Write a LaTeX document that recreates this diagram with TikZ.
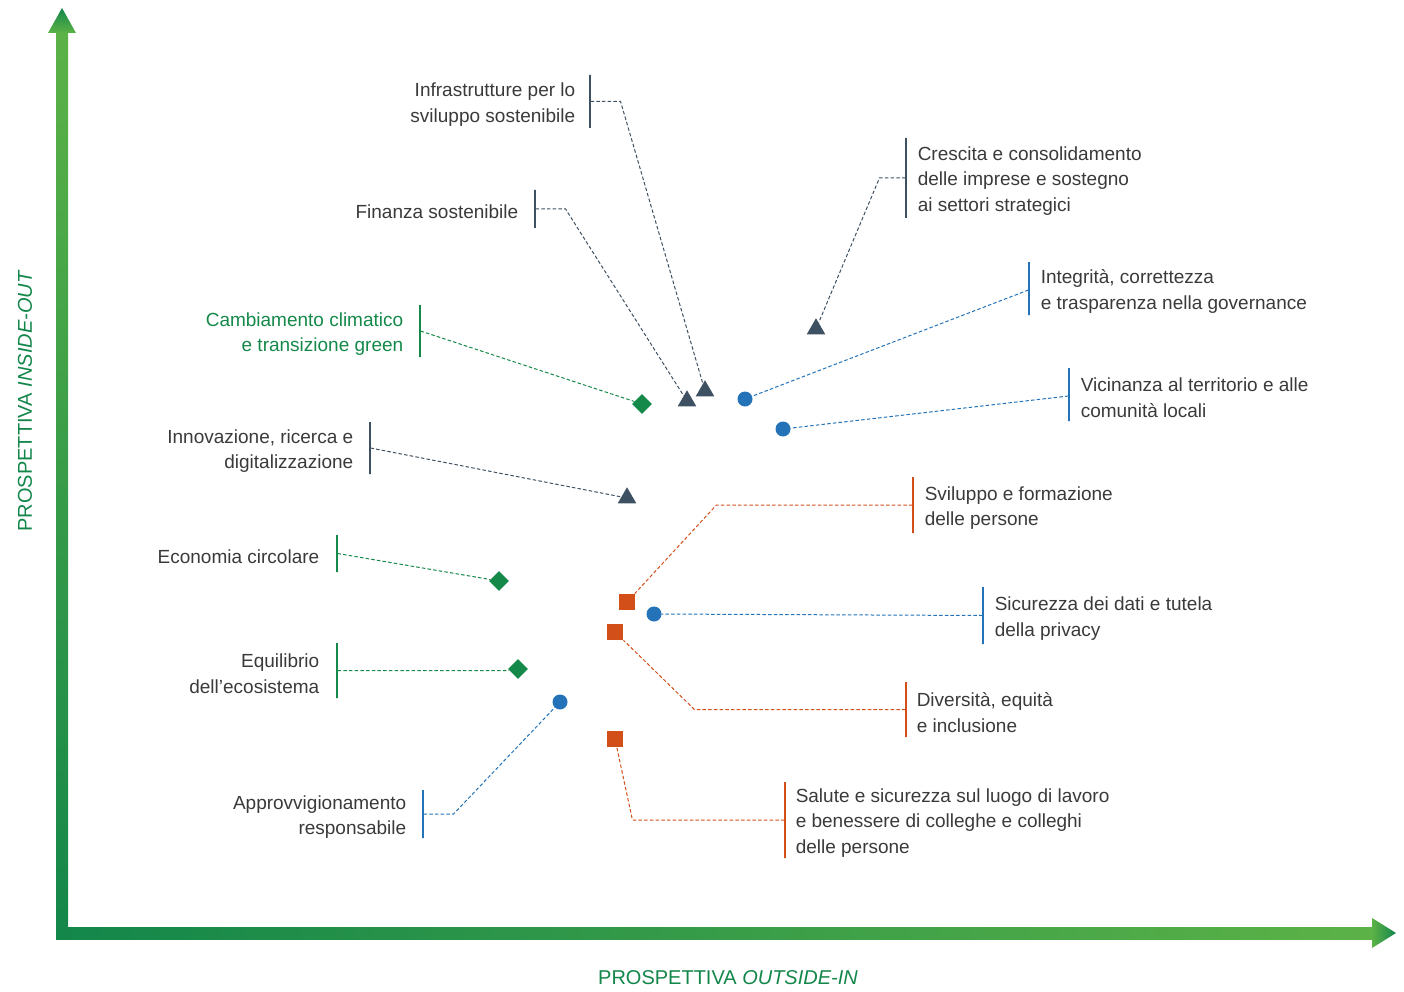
\documentclass[tikz,border=0pt]{standalone}
\usepackage{fontspec}
\setmainfont{Liberation Sans}
\usetikzlibrary{shapes.geometric,positioning}
\definecolor{txtgray}{HTML}{3A3A3A}
\definecolor{slate}{HTML}{3E5163}
\definecolor{dotblue}{HTML}{2473B8}
\definecolor{leafgreen}{HTML}{14894A}
\definecolor{rust}{HTML}{D24F19}
\definecolor{axdark}{HTML}{13864A}
\definecolor{axlight}{HTML}{5CB247}

\begin{document}
\begin{tikzpicture}[x=1pt,y=-1pt,
  every node/.style={font=\fontsize{19}{25.5}\selectfont, text=txtgray},
  lbl/.style={inner sep=0pt, yshift=-3pt},
  bar/.style={draw=#1, line width=1.1pt, minimum width=0pt, inner sep=0pt},
  link/.style={draw=#1, line width=1pt, dash pattern=on 3.5pt off 2.2pt},
  tri/.style={regular polygon, regular polygon sides=3, fill=slate, inner sep=0pt, minimum size=21.5pt},
  dia/.style={diamond, fill=leafgreen, inner sep=0pt, minimum size=20pt},
  dot/.style={circle, fill=dotblue, inner sep=0pt, minimum size=15pt},
  sq/.style={rectangle, fill=rust, inner sep=0pt, minimum size=16.5pt},
  axlbl/.style={font=\fontsize{20}{24}\selectfont, text=axdark}]
\useasboundingbox (0,0) rectangle (1404,992);

% axes
\shade[bottom color=axdark, top color=axlight] (56,939) rectangle (68,30);
\shade[top color=axdark, bottom color=axlight] (48,33) -- (76,33) -- (62,8) -- cycle;
\shade[left color=axdark, right color=axlight] (56,927) rectangle (1374,939);
\shade[left color=axlight, right color=axdark] (1372,918) -- (1372,948) -- (1396,933) -- cycle;
\node[axlbl] (xlab) at (728,978) {PROSPETTIVA \textit{OUTSIDE-IN}};
\node[axlbl, rotate=90] (ylab) at (25,401) {PROSPETTIVA \textit{INSIDE-OUT}};

% markers
\node[tri] (finanza) at (687,401) {};
\node[tri] (infra) at (705,391) {};
\node[tri] (crescita) at (816,329) {};
\node[tri] (innov) at (627,498) {};
\node[dia] (clima) at (642,404) {};
\node[dia] (circolare) at (499,581) {};
\node[dia] (ecosist) at (518,669) {};
\node[dot] (integrita) at (745,399) {};
\node[dot] (territorio) at (783,429) {};
\node[dot] (privacy) at (654,614) {};
\node[dot] (fornitori) at (560,702) {};
\node[sq] (sviluppo) at (627,602) {};
\node[sq] (diversita) at (615,632) {};
\node[sq] (salute) at (615,739) {};

% labels
\node[bar=slate, minimum height=53pt] (bInfra) at (590,101.5) {};
\node[lbl, align=right, left=14pt of bInfra] (tInfra) {Infrastrutture per lo\\sviluppo sostenibile};
\node[bar=slate, minimum height=38pt] (bFinanza) at (535,209) {};
\node[lbl, left=16pt of bFinanza] (tFinanza) {Finanza sostenibile};
\node[bar=slate, minimum height=80pt] (bCrescita) at (906,178) {};
\node[lbl, align=left, right=11pt of bCrescita] (tCrescita) {Crescita e consolidamento\\delle imprese e sostegno\\ai settori strategici};
\node[bar=dotblue, minimum height=53pt] (bIntegrita) at (1029,288.5) {};
\node[lbl, align=left, right=11pt of bIntegrita] (tIntegrita) {Integrità, correttezza\\e trasparenza nella governance};
\node[bar=dotblue, minimum height=53pt] (bTerritorio) at (1069,394.5) {};
\node[lbl, align=left, right=11pt of bTerritorio] (tTerritorio) {Vicinanza al territorio e alle\\comunità locali};
\node[bar=leafgreen, minimum height=52pt] (bClima) at (420,331) {};
\node[lbl, align=right, left=16pt of bClima, text=leafgreen] (tClima) {Cambiamento climatico\\e transizione green};
\node[bar=slate, minimum height=52pt] (bInnov) at (370,448) {};
\node[lbl, align=right, left=16pt of bInnov] (tInnov) {Innovazione, ricerca e\\digitalizzazione};
\node[bar=rust, minimum height=56pt] (bSviluppo) at (913,505) {};
\node[lbl, align=left, right=11pt of bSviluppo] (tSviluppo) {Sviluppo e formazione\\delle persone};
\node[bar=leafgreen, minimum height=37pt] (bCircolare) at (337,553.5) {};
\node[lbl, left=17pt of bCircolare] (tCircolare) {Economia circolare};
\node[bar=dotblue, minimum height=57pt] (bPrivacy) at (983,615.5) {};
\node[lbl, align=left, right=11pt of bPrivacy] (tPrivacy) {Sicurezza dei dati e tutela\\della privacy};
\node[bar=leafgreen, minimum height=55pt] (bEcosist) at (337,670.5) {};
\node[lbl, align=right, left=17pt of bEcosist] (tEcosist) {Equilibrio\\dell’ecosistema};
\node[bar=rust, minimum height=55pt] (bDiversita) at (906,709.5) {};
\node[lbl, align=left, right=10pt of bDiversita] (tDiversita) {Diversità, equità\\e inclusione};
\node[bar=dotblue, minimum height=48pt] (bFornitori) at (423,814) {};
\node[lbl, align=right, left=16pt of bFornitori] (tFornitori) {Approvvigionamento\\responsabile};
\node[bar=rust, minimum height=76pt] (bSalute) at (785,820) {};
\node[lbl, align=left, right=10pt of bSalute] (tSalute) {Salute e sicurezza sul luogo di lavoro\\e benessere di colleghe e colleghi\\delle persone};

% connectors
\draw[link=slate] (bInfra.east) -- ++(30,0) -- (infra);
\draw[link=slate] (bFinanza.east) -- ++(30,0) -- (finanza);
\draw[link=slate] (bCrescita.west) -- ++(-26,0) -- (crescita);
\draw[link=dotblue] ([yshift=-1.5pt]bIntegrita.west) -- (integrita);
\draw[link=dotblue] ([yshift=-1.5pt]bTerritorio.west) -- (territorio);
\draw[link=leafgreen] (bClima.east) -- (clima);
\draw[link=slate] (bInnov.east) -- (innov);
\draw[link=rust] (bSviluppo.west) -- ++(-196,0) -- (sviluppo);
\draw[link=leafgreen] (bCircolare.east) -- (circolare);
\draw[link=dotblue] (bPrivacy.west) -- (privacy);
\draw[link=leafgreen] (bEcosist.east) -- ++(170,0) -- (ecosist);
\draw[link=rust] (bDiversita.west) -- ++(-211,0) -- (diversita);
\draw[link=dotblue] (bFornitori.east) -- ++(30,0) -- (fornitori);
\draw[link=rust] (bSalute.west) -- ++(-152,0) -- (salute);
\end{tikzpicture}
\end{document}
